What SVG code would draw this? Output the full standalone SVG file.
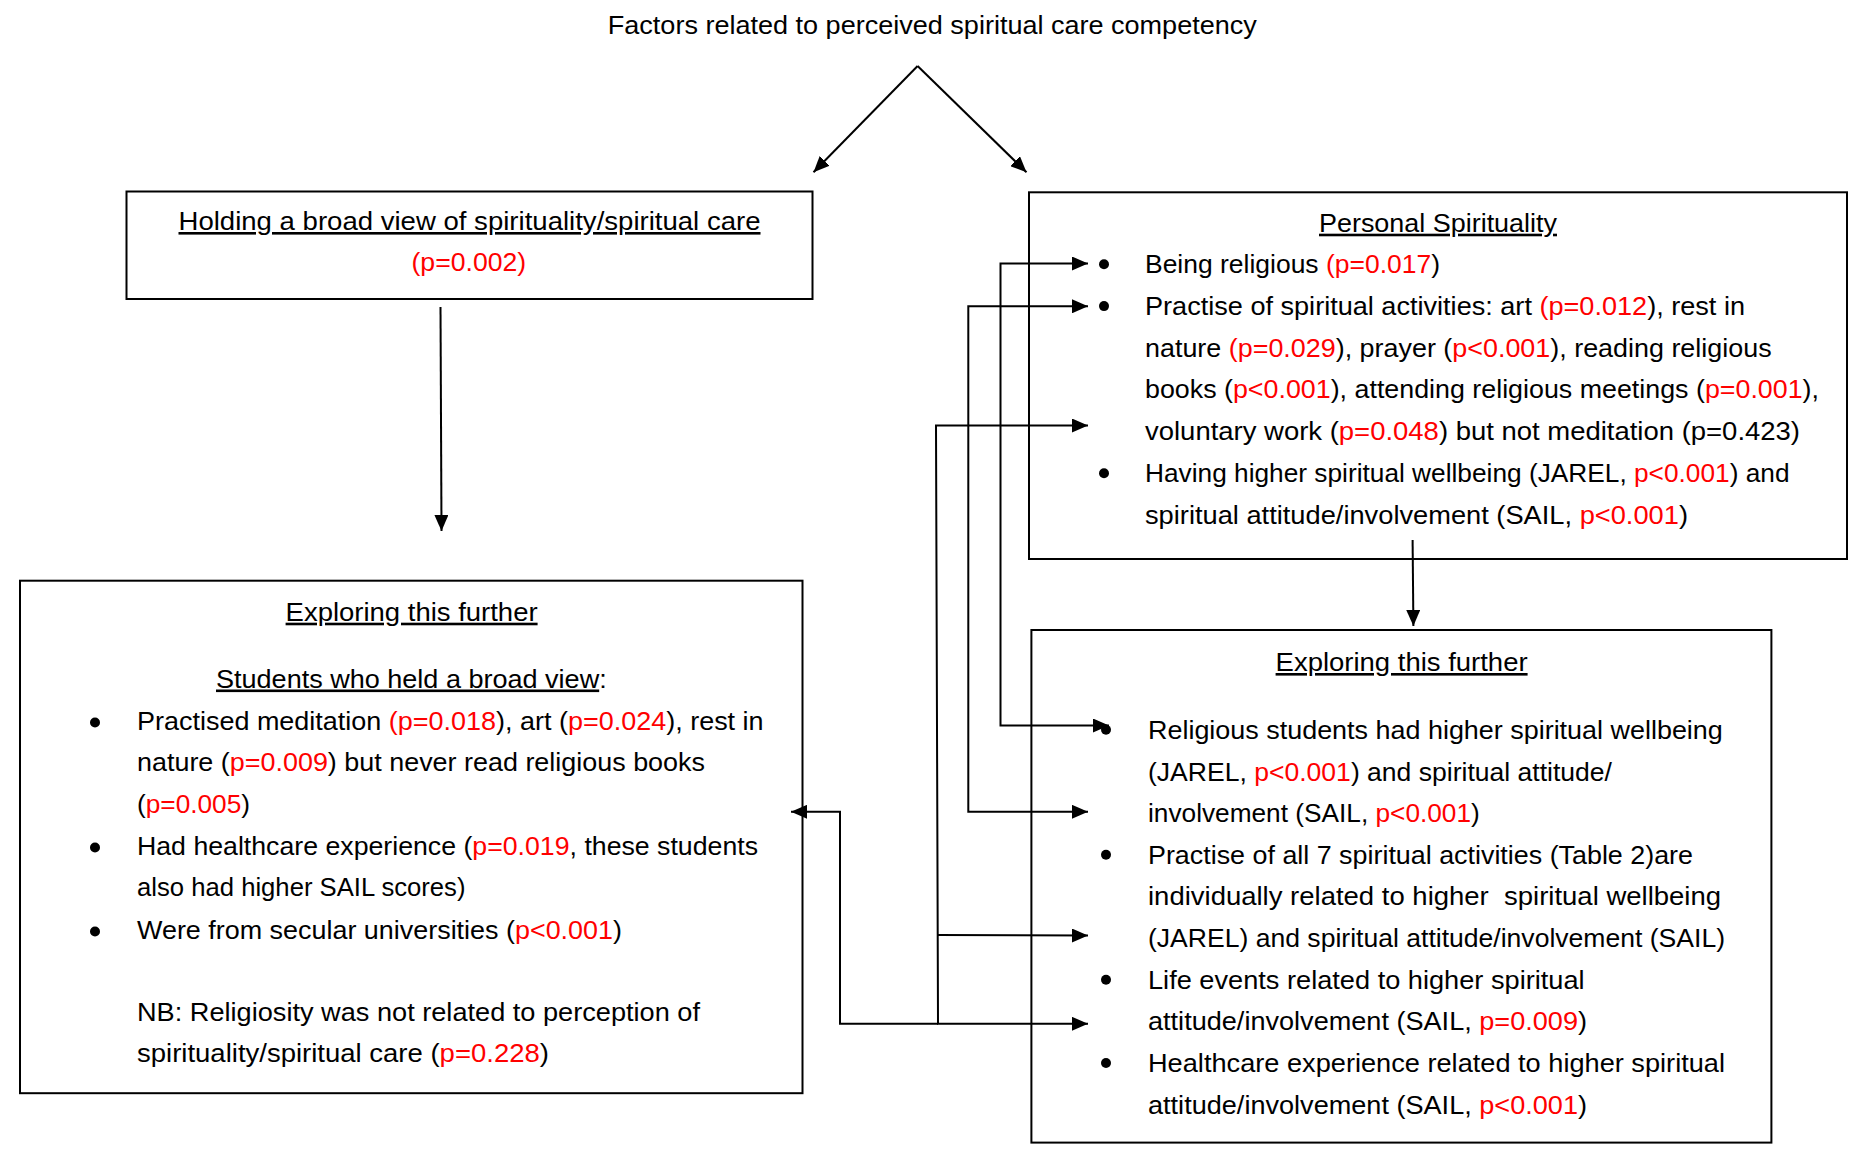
<svg xmlns="http://www.w3.org/2000/svg" width="1854" height="1152" viewBox="0 0 1854 1152">
<style>
  text { font-family: "Liberation Sans", Arial, sans-serif; font-size: 26px; fill: #000; }
  .r { fill: #ff0000; }
  .u { text-decoration: underline; }
  .box { fill: #fff; stroke: #000; stroke-width: 2; }
  .ln { fill: none; stroke: #000; stroke-width: 2; }
  .dot { fill: #000; }
</style>
<defs>
  <marker id="ah" markerUnits="userSpaceOnUse" markerWidth="16" markerHeight="14" refX="16" refY="7" orient="auto-start-reverse">
    <path d="M0,0 L16,7 L0,14 z" fill="#000"/>
  </marker>
</defs>
<rect width="1854" height="1152" fill="#fff"/>

<g id="title">
  <text x="607.8" y="34" textLength="649" lengthAdjust="spacingAndGlyphs">Factors related to perceived spiritual care competency</text>
</g>

<g id="broad-view">
  <rect class="box" x="126.5" y="191.5" width="686" height="107.5"/>
  <text class="u" x="178.5" y="230" textLength="582" lengthAdjust="spacingAndGlyphs">Holding a broad view of spirituality/spiritual care</text>
  <text class="r" x="411.5" y="270.7" textLength="114.7" lengthAdjust="spacingAndGlyphs">(p=0.002)</text>
</g>

<g id="personal-spirituality">
  <rect class="box" x="1029" y="192.3" width="818" height="366.7"/>
  <text class="u" x="1319" y="231.7" textLength="238" lengthAdjust="spacingAndGlyphs">Personal Spirituality</text>
  <circle class="dot" cx="1104" cy="264.3" r="5"/>
  <circle class="dot" cx="1104" cy="306.1" r="5"/>
  <circle class="dot" cx="1104" cy="473.3" r="5"/>
  <text x="1145" y="273" textLength="295" lengthAdjust="spacingAndGlyphs">Being religious <tspan class="r">(p=0.017</tspan>)</text>
  <text x="1145" y="314.8" textLength="600" lengthAdjust="spacingAndGlyphs">Practise of spiritual activities: art <tspan class="r">(p=0.012</tspan>), rest in</text>
  <text x="1145" y="356.6" textLength="626.6" lengthAdjust="spacingAndGlyphs">nature <tspan class="r">(p=0.029</tspan>), prayer (<tspan class="r">p&lt;0.001</tspan>), reading religious</text>
  <text x="1145" y="398.4" textLength="674" lengthAdjust="spacingAndGlyphs">books (<tspan class="r">p&lt;0.001</tspan>), attending religious meetings (<tspan class="r">p=0.001</tspan>),</text>
  <text x="1145" y="440.2" textLength="655" lengthAdjust="spacingAndGlyphs">voluntary work (<tspan class="r">p=0.048</tspan>) but not meditation (p=0.423)</text>
  <text x="1145" y="482" textLength="644.5" lengthAdjust="spacingAndGlyphs">Having higher spiritual wellbeing (JAREL, <tspan class="r">p&lt;0.001</tspan>) and</text>
  <text x="1145" y="523.8" textLength="543" lengthAdjust="spacingAndGlyphs">spiritual attitude/involvement (SAIL, <tspan class="r">p&lt;0.001</tspan>)</text>
</g>

<g id="explore-left">
  <rect class="box" x="20" y="580.7" width="782.5" height="512.5"/>
  <text class="u" x="285.6" y="620.7" textLength="252" lengthAdjust="spacingAndGlyphs">Exploring this further</text>
  <text x="216" y="687.5" textLength="390.7" lengthAdjust="spacingAndGlyphs"><tspan class="u">Students who held a broad view</tspan>:</text>
  <circle class="dot" cx="95" cy="722.5" r="5"/>
  <circle class="dot" cx="95" cy="847.5" r="5"/>
  <circle class="dot" cx="95" cy="931.5" r="5"/>
  <text x="137" y="729.6" textLength="626.6" lengthAdjust="spacingAndGlyphs">Practised meditation <tspan class="r">(p=0.018</tspan>), art (<tspan class="r">p=0.024</tspan>), rest in</text>
  <text x="137" y="770.7" textLength="568" lengthAdjust="spacingAndGlyphs">nature (<tspan class="r">p=0.009</tspan>) but never read religious books</text>
  <text x="137" y="812.5" textLength="113" lengthAdjust="spacingAndGlyphs">(<tspan class="r">p=0.005</tspan>)</text>
  <text x="137" y="854.6" textLength="621" lengthAdjust="spacingAndGlyphs">Had healthcare experience (<tspan class="r">p=0.019</tspan>, these students</text>
  <text x="137" y="895.7" textLength="328.5" lengthAdjust="spacingAndGlyphs">also had higher SAIL scores)</text>
  <text x="137" y="938.6" textLength="485" lengthAdjust="spacingAndGlyphs">Were from secular universities (<tspan class="r">p&lt;0.001</tspan>)</text>
  <text x="137" y="1020.7" textLength="563" lengthAdjust="spacingAndGlyphs">NB: Religiosity was not related to perception of</text>
  <text x="137" y="1061.8" textLength="412" lengthAdjust="spacingAndGlyphs">spirituality/spiritual care (<tspan class="r">p=0.228</tspan>)</text>
</g>

<g id="explore-right">
  <rect class="box" x="1031.4" y="630" width="740" height="512.6"/>
  <text class="u" x="1275.6" y="671" textLength="252" lengthAdjust="spacingAndGlyphs">Exploring this further</text>
  <circle class="dot" cx="1106" cy="729.8" r="5"/>
  <circle class="dot" cx="1106" cy="854.8" r="5"/>
  <circle class="dot" cx="1106" cy="979.7" r="5"/>
  <circle class="dot" cx="1106" cy="1063" r="5"/>
  <text x="1148" y="738.8" textLength="574.8" lengthAdjust="spacingAndGlyphs">Religious students had higher spiritual wellbeing</text>
  <text x="1148" y="780.5" textLength="464" lengthAdjust="spacingAndGlyphs">(JAREL, <tspan class="r">p&lt;0.001</tspan>) and spiritual attitude/</text>
  <text x="1148" y="822.1" textLength="331.8" lengthAdjust="spacingAndGlyphs">involvement (SAIL, <tspan class="r">p&lt;0.001</tspan>)</text>
  <text x="1148" y="863.8" textLength="545" lengthAdjust="spacingAndGlyphs">Practise of all 7 spiritual activities (Table 2)are</text>
  <text x="1148" y="905.4" textLength="573" lengthAdjust="spacingAndGlyphs" xml:space="preserve">individually related to higher  spiritual wellbeing</text>
  <text x="1148" y="947.1" textLength="577" lengthAdjust="spacingAndGlyphs">(JAREL) and spiritual attitude/involvement (SAIL)</text>
  <text x="1148" y="988.7" textLength="436.6" lengthAdjust="spacingAndGlyphs">Life events related to higher spiritual</text>
  <text x="1148" y="1030.4" textLength="439" lengthAdjust="spacingAndGlyphs">attitude/involvement (SAIL, <tspan class="r">p=0.009</tspan>)</text>
  <text x="1148" y="1072" textLength="577" lengthAdjust="spacingAndGlyphs">Healthcare experience related to higher spiritual</text>
  <text x="1148" y="1113.7" textLength="439" lengthAdjust="spacingAndGlyphs">attitude/involvement (SAIL, <tspan class="r">p&lt;0.001</tspan>)</text>
</g>

<g id="connectors">
  <path class="ln" d="M917.6,66 L813.5,172.3" marker-end="url(#ah)"/>
  <path class="ln" d="M917.6,66 L1026.5,172.3" marker-end="url(#ah)"/>
  <path class="ln" d="M440.5,307 L441.5,531" marker-end="url(#ah)"/>
  <path class="ln" d="M1412.6,540 L1413.4,626" marker-end="url(#ah)"/>
  <path class="ln" d="M1088,263.5 H1000.5 V725.5 H1109" marker-start="url(#ah)" marker-end="url(#ah)"/>
  <path class="ln" d="M1088,306.3 H968.3 V811.8 H1088" marker-start="url(#ah)" marker-end="url(#ah)"/>
  <path class="ln" d="M1088,425.5 H936 L938,1023.8 H1088" marker-start="url(#ah)" marker-end="url(#ah)"/>
  <path class="ln" d="M938,935 L1088,935.6" marker-end="url(#ah)"/>
  <path class="ln" d="M938,1023.8 H840 V811.8 H791" marker-end="url(#ah)"/>
</g>
</svg>
